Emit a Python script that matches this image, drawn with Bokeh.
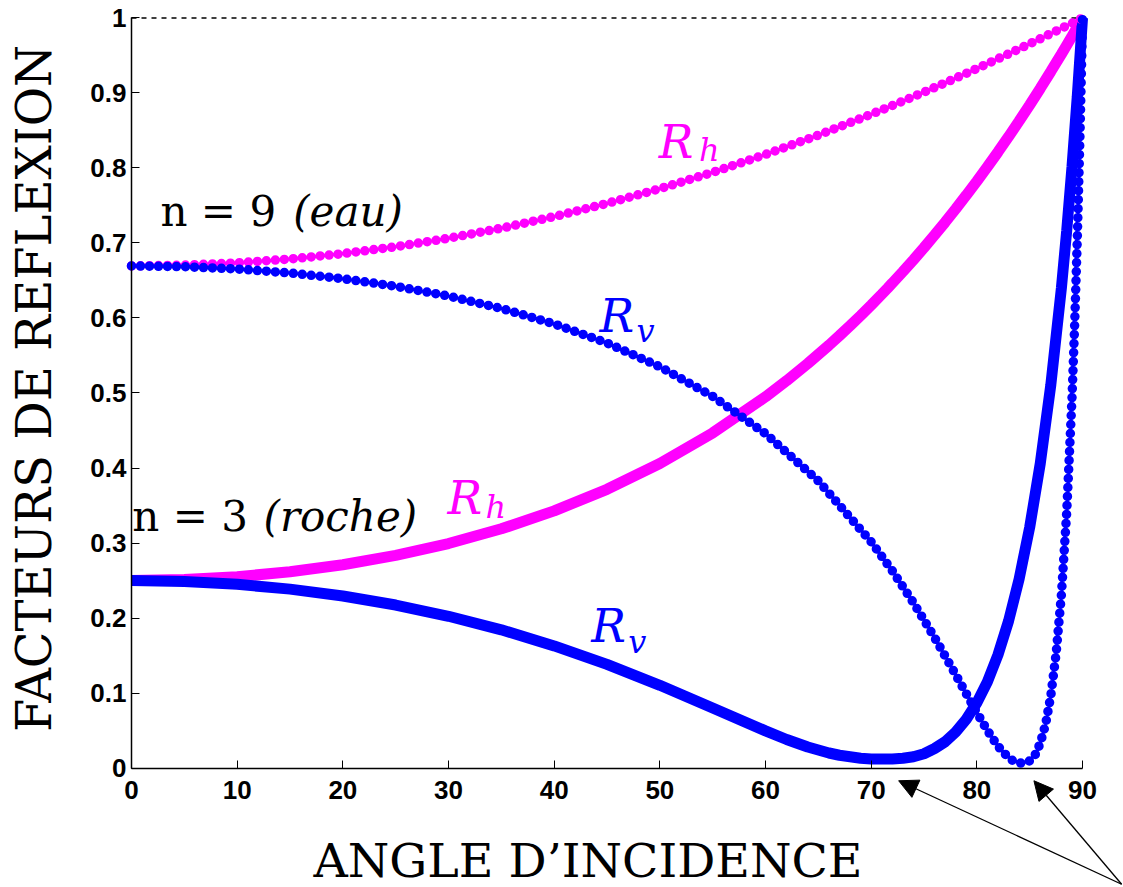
from math import pi

from bokeh.plotting import figure
from bokeh.models import Range1d, FixedTicker, Label, Arrow, NormalHead
from bokeh.embed import file_html
from bokeh.resources import INLINE

# Reflection factors versus angle of incidence (degrees)

# n = 3 (roche)
angle_roche = [0, 5, 10, 15, 20, 25, 30, 35, 40, 45, 50, 55, 60,
               62, 64, 66, 67, 68, 69, 70, 71, 71.57, 72, 73, 74, 75, 76, 77, 78,
               79, 80, 81, 82, 83, 84, 85, 86, 87, 88, 88.5, 89, 89.5, 90]
rh_roche = [0.2500, 0.2513, 0.2551, 0.2616, 0.2710, 0.2835, 0.2993, 0.3189, 0.3428,
            0.3716, 0.4060, 0.4468, 0.4949,
            0.5164, 0.5393, 0.5637, 0.5765, 0.5896, 0.6032, 0.6172, 0.6317, 0.6400,
            0.6465, 0.6618, 0.6776, 0.6938, 0.7106, 0.7278, 0.7455, 0.7637, 0.7824,
            0.8016, 0.8214, 0.8417, 0.8626, 0.8841, 0.9061, 0.9287, 0.9518, 0.9637,
            0.9756, 0.9877, 1.0]
rv_roche = [0.2500, 0.2487, 0.2449, 0.2385, 0.2293, 0.2173, 0.2023, 0.1842, 0.1628,
            0.1381, 0.1103, 0.0800, 0.0495,
            0.038, 0.028, 0.020, 0.017, 0.015, 0.013, 0.012, 0.012, 0.012,
            0.012, 0.013, 0.015, 0.019, 0.026, 0.035, 0.048, 0.065, 0.087,
            0.115, 0.151, 0.196, 0.252, 0.321, 0.406, 0.511, 0.640, 0.716,
            0.801, 0.895, 1.0]

# n = 9 (eau)
angle_eau = [0, 5, 10, 15, 20, 25, 30, 35, 40, 45, 50, 55, 60, 65, 70,
             72, 74, 76, 78, 80, 81, 82, 83,
             83.5, 84, 84.29, 84.5, 85, 85.5, 86, 86.5, 87, 87.5, 88, 88.5, 89,
             89.25, 89.5, 89.75, 89.9, 90]
rh_eau = [0.6694, 0.6705, 0.6735, 0.6786, 0.6858, 0.6950, 0.7063, 0.7197, 0.7352,
          0.7527, 0.7724, 0.7942, 0.8180, 0.8438, 0.8716,
          0.8832, 0.8951, 0.9073, 0.9198, 0.9326, 0.9391, 0.9456, 0.9522,
          0.9555, 0.9589, 0.9608, 0.9622, 0.9656, 0.9690, 0.9724, 0.9758, 0.9792,
          0.9826, 0.9861, 0.9895, 0.9930, 0.9948, 0.9965, 0.9983, 0.9993, 1.0]
rv_eau = [0.6694, 0.6684, 0.6653, 0.6600, 0.6524, 0.6423, 0.6292, 0.6127, 0.5921,
          0.5666, 0.5350, 0.4955, 0.4458, 0.3827, 0.3015,
          0.2629, 0.2203, 0.1739, 0.1243, 0.0737, 0.0500, 0.0290, 0.0135,
          0.0090, 0.0068, 0.0065, 0.0068, 0.0095, 0.0170, 0.0330, 0.0580, 0.0965,
          0.1525, 0.2310, 0.3404, 0.4922, 0.5890, 0.7035, 0.8390, 0.9323, 1.0]

# Axis ticks
x_ticks = [0, 10, 20, 30, 40, 50, 60, 70, 80, 90]
x_tick_labels = ["0", "10", "20", "30", "40", "50", "60", "70", "80", "90"]
y_ticks = [0, 0.1, 0.2, 0.3, 0.4, 0.5, 0.6, 0.7, 0.8, 0.9, 1]
y_tick_labels = ["0", "0.1", "0.2", "0.3", "0.4", "0.5", "0.6", "0.7", "0.8", "0.9", "1"]

MAGENTA = "#ff00ff"
BLUE = "#0000ff"
SERIF = "DejaVu Serif"

# The frame fills the whole canvas so that titles and arrows can sit
# around the axes; the axes themselves are pinned at x = 0 and y = 0.
p = figure(width=1123, height=887, output_backend="svg", toolbar_location=None,
           title=None,
           x_range=Range1d(-12.397, 93.877), y_range=Range1d(-0.15933, 1.02333),
           min_border_left=0, min_border_right=0,
           min_border_top=0, min_border_bottom=0)
p.grid.visible = False
p.outline_line_color = None
p.background_fill_color = "white"
p.border_fill_color = "white"

p.xaxis.ticker = FixedTicker(ticks=x_ticks)
p.xaxis.major_label_overrides = dict(zip(x_ticks, x_tick_labels))
p.xaxis.bounds = (x_ticks[0], x_ticks[-1])
p.xaxis.fixed_location = y_ticks[0]
p.yaxis.ticker = FixedTicker(ticks=y_ticks)
p.yaxis.major_label_overrides = dict(zip(y_ticks, y_tick_labels))
p.yaxis.bounds = (y_ticks[0], y_ticks[-1])
p.yaxis.fixed_location = x_ticks[0]
for ax in (p.xaxis, p.yaxis):
    ax.axis_line_color = "black"
    ax.axis_line_width = 1.5
    ax.major_tick_in = 8
    ax.major_tick_out = 0
    ax.major_tick_line_color = "black"
    ax.minor_tick_line_color = None
    ax.major_label_text_font = "Liberation Sans"
    ax.major_label_text_font_style = "bold"
    ax.major_label_text_font_size = "26px"
    ax.major_label_text_color = "black"
p.xaxis.major_label_standoff = 13
p.yaxis.major_label_standoff = 5

# dashed reference line at full reflection
p.line([x_ticks[0], x_ticks[-1]], [y_ticks[-1], y_ticks[-1]], line_color="black",
       line_dash="5 5", line_width=1.6)

# n = 3: thick continuous curves
p.line(angle_roche, rh_roche, line_color=MAGENTA, line_width=11)
p.line(angle_roche, rv_roche, line_color=BLUE, line_width=11)

# n = 9: beaded curves
p.line(angle_eau, rh_eau, line_color=MAGENTA, line_width=9.5,
       line_dash="0 9", line_cap="round", line_join="round")
p.line(angle_eau, rv_eau, line_color=BLUE, line_width=9.5,
       line_dash="0 9", line_cap="round", line_join="round")


def add_text(x, y, text, color="black", size="46px", style="normal"):
    p.add_layout(Label(x=x, y=y, text=text, text_color=color,
                       text_font=SERIF, text_font_size=size,
                       text_font_style=style, text_baseline="alphabetic",
                       text_align="left"))


# curve names
add_text(49.9, 0.835, "R", MAGENTA, "46px", "italic")
add_text(53.7, 0.824, "h", MAGENTA, "32px", "italic")
add_text(44.3, 0.602, "R", BLUE, "46px", "italic")
add_text(47.8, 0.582, "v", BLUE, "32px", "italic")
add_text(29.9, 0.360, "R", MAGENTA, "46px", "italic")
add_text(33.5, 0.348, "h", MAGENTA, "32px", "italic")
add_text(43.5, 0.189, "R", BLUE, "46px", "italic")
add_text(47.0, 0.168, "v", BLUE, "32px", "italic")

# media
add_text(2.74, 0.742, "n = 9", "black", "42px")
add_text(15.3, 0.742, "(eau)", "black", "42px", "italic")
add_text(0.07, 0.336, "n = 3", "black", "42px")
add_text(12.5, 0.336, "(roche)", "black", "42px", "italic")

# axis titles
p.add_layout(Label(x=43.2, y=-0.1233, text="ANGLE D\u2019INCIDENCE",
                   text_font=SERIF, text_font_size="47.5px", text_color="black",
                   text_align="center", text_baseline="alphabetic"))
p.add_layout(Label(x=-9.18, y=0.506, text="FACTEURS DE REFLEXION", angle=pi / 2,
                   text_font=SERIF, text_font_size="48px", text_color="black",
                   text_align="center", text_baseline="alphabetic"))

# arrows to the Brewster angles
for x_end in (72.6, 85.4):
    p.add_layout(Arrow(end=NormalHead(size=19, fill_color="black", line_color="black"),
                       x_start=93.7, y_start=-0.155, x_end=x_end, y_end=-0.017,
                       line_color="black", line_width=1.3))

open("out.html", "w").write(file_html(p, INLINE))
